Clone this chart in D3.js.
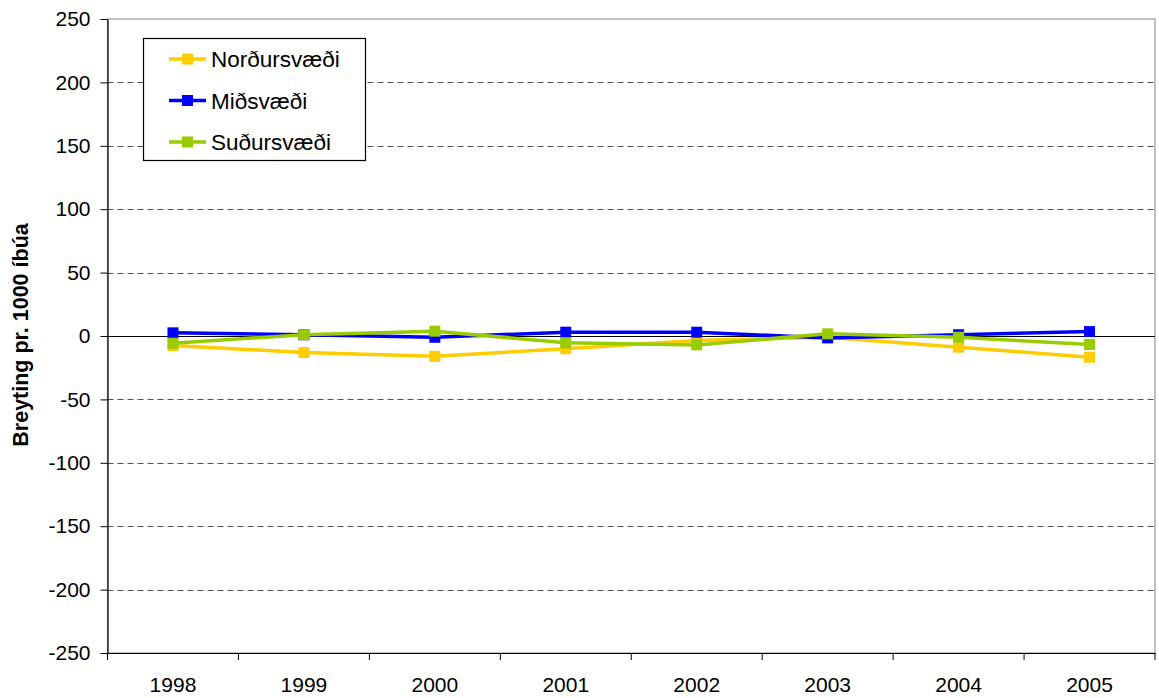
<!DOCTYPE html>
<html><head><meta charset="utf-8">
<script src="https://cdn.jsdelivr.net/npm/d3@7"></script>
<style>body{margin:0;background:#fff}svg{display:block}text{font-family:"Liberation Sans",Arial,sans-serif}</style>
</head><body><svg id="c" width="1159" height="698"></svg>
<script>
const years = ["1998","1999","2000","2001","2002","2003","2004","2005"];
const nordur = [-7.5, -13, -16, -10, -3.5, -1, -8.8, -16.7];
const midsv = [2.5, 1, -1, 3, 3, -1.5, 1, 3.5];
const sudur = [-5.7, 1, 3.8, -5.4, -7, 1.7, -1, -6.7];
const seriesNames = ["Norðursvæði", "Miðsvæði", "Suðursvæði"];
const seriesColors = ["#FFCC00", "#0000FF", "#99CC00"];
const yTicks = [-250,-200,-150,-100,-50,0,50,100,150,200,250];
const yTitle = "Breyting pr. 1000 íbúa";

const series = [nordur, midsv, sudur];
const svg = d3.select("#c");
const L = 107.5, R = 1155, T = 19, B = 653;
const x = d3.scaleBand().domain(years).range([L, R]);
const y = d3.scaleLinear().domain([-250, 250]).range([B, T]);

// plot border (top/right grey)
svg.append("rect").attr("x", L).attr("y", T).attr("width", R - L).attr("height", B - T)
  .attr("fill", "none").attr("stroke", "#999").attr("stroke-width", 1.2);

// gridlines
svg.append("g").selectAll("line").data(yTicks.filter(d => d !== 0 && d !== 250 && d !== -250)).join("line")
  .attr("x1", L).attr("x2", R).attr("y1", d => Math.round(y(d)) + 0.5).attr("y2", d => Math.round(y(d)) + 0.5)
  .attr("stroke", "#555").attr("stroke-dasharray", "6,4").attr("stroke-width", 1);

// zero line
svg.append("line").attr("x1", L).attr("x2", R).attr("y1", Math.round(y(0)) + 0.5).attr("y2", Math.round(y(0)) + 0.5)
  .attr("stroke", "#000").attr("stroke-width", 1.2);

// y axis
const ya = svg.append("g").attr("transform", `translate(${L},0)`)
  .call(d3.axisLeft(y).tickValues(yTicks).tickFormat(d => String(d)).tickSize(7).tickPadding(10).tickSizeOuter(0));
ya.select(".domain").attr("stroke", "#000").attr("stroke-width", 1.2);
ya.selectAll("line").attr("stroke", "#000");
ya.selectAll("text").attr("font-size", 21).attr("fill", "#000").attr("font-family", '"Liberation Sans",Arial,sans-serif');

// x axis
const xa = svg.append("g").attr("transform", `translate(0,${B})`)
  .call(d3.axisBottom(x).tickSize(0).tickPadding(24));
xa.select(".domain").attr("stroke", "#000").attr("stroke-width", 1.2);
xa.selectAll("text").attr("font-size", 21).attr("fill", "#000").attr("font-family", '"Liberation Sans",Arial,sans-serif');
// category boundary ticks
const bounds = years.map(d => x(d)).concat([R]);
svg.append("g").selectAll("line").data(bounds).join("line")
  .attr("x1", d => d).attr("x2", d => d).attr("y1", B).attr("y2", B + 7).attr("stroke", "#000");

// y title
svg.append("text").attr("transform", `translate(28,335) rotate(-90)`)
  .attr("text-anchor", "middle").attr("font-size", 21.5).attr("font-weight", "bold").text(yTitle);

// series
const cx = d => x(d) + x.bandwidth() / 2;
series.forEach((vals, i) => {
  const line = d3.line().x((v, j) => cx(years[j])).y(v => y(v));
  const g = svg.append("g");
  g.append("path").datum(vals).attr("d", line).attr("fill", "none")
    .attr("stroke", seriesColors[i]).attr("stroke-width", 3.5);
  g.selectAll("rect").data(vals).join("rect")
    .attr("x", (v, j) => cx(years[j]) - 5.5).attr("y", v => y(v) - 5.5)
    .attr("width", 11).attr("height", 11).attr("fill", seriesColors[i]);
});

// legend
const lg = svg.append("g");
lg.append("rect").attr("x", 143.5).attr("y", 38.5).attr("width", 222).attr("height", 122)
  .attr("fill", "#fff").attr("stroke", "#000").attr("stroke-width", 1.2);
seriesNames.forEach((n, i) => {
  const yy = 59 + i * 41.5;
  lg.append("line").attr("x1", 169).attr("x2", 206).attr("y1", yy).attr("y2", yy)
    .attr("stroke", seriesColors[i]).attr("stroke-width", 3.5);
  lg.append("rect").attr("x", 187.5 - 5.5).attr("y", yy - 5.5).attr("width", 11).attr("height", 11).attr("fill", seriesColors[i]);
  lg.append("text").attr("x", 211).attr("y", yy).attr("dy", "0.36em").attr("font-size", 22.5).text(n);
});
</script></body></html>
